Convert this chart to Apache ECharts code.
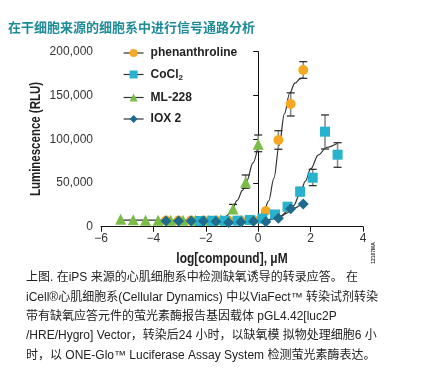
<!DOCTYPE html>
<html><head><meta charset="utf-8">
<script src="https://cdn.jsdelivr.net/npm/echarts@6/dist/echarts.min.js"></script>
<style>html,body{margin:0;padding:0;background:#fff}#c{width:437px;height:386px}</style>
</head><body><div id="c"></div>
<script>
// ---- data ----
const seriesNames = ['phenanthroline', 'CoCl2', 'ML-228', 'IOX 2'];
const xTicks = [-6, -4, -2, 0, 2, 4];
const yTicks = [0, 50000, 100000, 150000, 200000];
const xAxisTitle = 'log[compound], μM';
const yAxisTitle = 'Luminescence (RLU)';

const phenX = [-3.52, -3.04, -2.56, -2.09, -1.61, -1.13, -0.66, -0.18, 0.29, 0.77, 1.24, 1.72];
const phenY = [7000, 7000, 7200, 7000, 7000, 6800, 7000, 7500, 17900, 99100, 140200, 179000];
const cocX = [-2.22, -1.75, -1.27, -0.79, -0.32, 0.16, 0.64, 1.12, 1.60, 2.08, 2.55, 3.03];
const cocY = [6500, 6800, 6800, 6900, 7700, 9200, 14000, 22900, 40000, 56000, 108600, 82300];
const mlX = [-5.25, -4.77, -4.30, -3.82, -3.34, -2.87, -2.39, -1.91, -1.43, -0.96, -0.48, 0.00];
const mlY = [8500, 8000, 7500, 7500, 7500, 7500, 7500, 7500, 8000, 20200, 50700, 94200];
const ioxX = [-3.52, -3.04, -2.56, -2.09, -1.61, -1.13, -0.66, -0.18, 0.29, 0.77, 1.24, 1.72];
const ioxY = [6500, 6500, 6500, 6500, 6000, 4800, 5500, 6200, 5600, 9600, 20600, 26000];

// error bars: x, low, high
const phenErrX = [0.77, 1.24, 1.72];
const phenErrLo = [88500, 126500, 169600];
const phenErrHi = [109700, 153000, 188600];
const cocErrX = [1.60, 2.08, 2.55, 3.03];
const cocErrLo = [35400, 46900, 88800, 67900];
const cocErrHi = [45000, 65600, 127700, 96000];
const mlErrX = [-0.96, -0.48, 0.00];
const mlErrLo = [15500, 43900, 85700];
const mlErrHi = [25500, 59100, 104800];

// fitted curves
const phenFitX = [-3.52, -1.0, -0.5, -0.2, 0.0, 0.2, 0.4, 0.6, 0.8, 1.0, 1.2, 1.4, 1.6, 1.72];
const phenFitY = [7000, 7000, 7300, 8300, 10600, 16300, 29500, 55500, 93000, 129000, 152500, 164000, 169000, 170500];
const cocFitX = [-2.22, -0.5, 0.0, 0.4, 0.8, 1.1, 1.34, 1.6, 1.8, 2.0, 2.3, 2.6, 3.03];
const cocFitY = [7000, 7000, 7300, 8000, 10700, 15600, 23700, 38000, 52000, 66000, 82000, 90500, 95300];
const mlFitX = [-5.25, -2.0, -1.6, -1.33, -1.2, -1.0, -0.8, -0.6, -0.44, -0.2, 0.0];
const mlFitY = [7500, 7500, 7900, 9500, 12500, 20000, 30000, 41500, 52000, 73000, 93500];
const ioxFitX = [-3.52, -1.0, -0.5, 0.0, 0.3, 0.77, 1.24, 1.72];
const ioxFitY = [6500, 6200, 6000, 6000, 6600, 11000, 20000, 27000];

const colors = ['#f7a823', '#27b2cd', '#79bd45', '#1f6b8e'];
const symbols = ['circle', 'rect', 'triangle', 'diamond'];
const symbolSizes = [10, 10, 11, 11];

const zip = (a, b) => a.map((v, i) => [v, b[i]]);
const zip3 = (a, b, c) => a.map((v, i) => [v, b[i], c[i]]);

const SANS = "'Liberation Sans', Arial, sans-serif";

function errSeries(data, z) {
  return {
    type: 'custom', silent: true, z: z, data: data,
    renderItem: function (params, api) {
      const x = api.value(0);
      const lo = api.coord([x, api.value(1)]);
      const hi = api.coord([x, api.value(2)]);
      const w = 4;
      return { type: 'group', children: [
        { type: 'line', shape: { x1: lo[0], y1: lo[1], x2: hi[0], y2: hi[1] }, style: { stroke: '#8a8a8a', lineWidth: 1.6 } },
        { type: 'line', shape: { x1: lo[0] - w, y1: lo[1], x2: lo[0] + w, y2: lo[1] }, style: { stroke: '#222', lineWidth: 1.2 } },
        { type: 'line', shape: { x1: hi[0] - w, y1: hi[1], x2: hi[0] + w, y2: hi[1] }, style: { stroke: '#222', lineWidth: 1.2 } }
      ]};
    }
  };
}
function fitSeries(data) {
  return { type: 'line', data: data, showSymbol: false, smooth: 0.35, smoothMonotone: 'x', silent: true, z: 2,
    lineStyle: { color: '#333', width: 1.2 } };
}
function markSeries(i, data, z) {
  return { name: seriesNames[i], type: 'line', data: data, symbol: symbols[i], symbolSize: symbolSizes[i], z: z,
    showAllSymbol: true, lineStyle: { width: 0, opacity: 0 }, itemStyle: { color: colors[i] }, silent: true };
}

const chart = echarts.init(document.getElementById('c'), null, { renderer: 'canvas' });
const captionLines = [
  '上图. 在iPS 来源的心肌细胞系中检测缺氧诱导的转录应答。 在',
  'iCell®心肌细胞系(Cellular Dynamics) 中以ViaFect™ 转染试剂转染',
  '带有缺氧应答元件的萤光素酶报告基因载体 pGL4.42[luc2P',
  '/HRE/Hygro] Vector，转染后24 小时，以缺氧模 拟物处理细胞6 小',
  '时，以 ONE-Glo™ Luciferase Assay System 检测萤光素酶表达。'
];
const captionFont = "12px 'Liberation Sans', 'Noto Sans CJK SC', sans-serif";

chart.setOption({
  animation: false,
  backgroundColor: '#fff',
  grid: { left: 101, top: 51.7, width: 262, height: 175, containLabel: false },
  xAxis: {
    type: 'value', min: xTicks[0], max: xTicks[xTicks.length - 1], interval: 2,
    axisLine: { lineStyle: { color: '#111', width: 1 } },
    axisTick: { length: 5, lineStyle: { color: '#111' } },
    splitLine: { show: false },
    axisLabel: { fontSize: 12, color: '#333', margin: 6, fontFamily: SANS,
      formatter: v => String(v).replace('-', '−') }
  },
  yAxis: {
    type: 'value', min: yTicks[0], max: yTicks[yTicks.length - 1], interval: 50000,
    axisLine: { show: true, lineStyle: { color: '#111', width: 1 } },
    axisTick: { show: true, length: 5, lineStyle: { color: '#111' } },
    splitLine: { show: false },
    axisLabel: { fontSize: 12, color: '#333', margin: 8, fontFamily: SANS,
      formatter: v => v.toLocaleString('en-US') }
  },
  legend: {
    orient: 'vertical', left: 118, top: 42, itemWidth: 20, itemHeight: 10, itemGap: 9.5,
    data: seriesNames, selectedMode: false,
    lineStyle: { color: '#333', width: 1.2, opacity: 1 },
    formatter: n => n === 'CoCl2' ? 'CoCl{sub|2}' : n,
    textStyle: { fontFamily: SANS, fontWeight: 'bold', fontSize: 12, color: '#222', padding: [0, 0, 0, 2],
      rich: { sub: { fontFamily: SANS, fontWeight: 'bold', fontSize: 8, color: '#222', padding: [7, 0, 0, 0] } } }
  },
  series: [
    fitSeries(zip(phenFitX, phenFitY)),
    fitSeries(zip(cocFitX, cocFitY)),
    fitSeries(zip(mlFitX, mlFitY)),
    fitSeries(zip(ioxFitX, ioxFitY)),
    errSeries(zip3(phenErrX, phenErrLo, phenErrHi), 3),
    errSeries(zip3(cocErrX, cocErrLo, cocErrHi), 3),
    errSeries(zip3(mlErrX, mlErrLo, mlErrHi), 3),
    markSeries(0, zip(phenX, phenY), 4),
    markSeries(2, zip(mlX, mlY), 5),
    markSeries(1, zip(cocX, cocY), 6),
    markSeries(3, zip(ioxX, ioxY), 7)
  ],
  graphic: [
    { type: 'text', left: 8, top: 21, style: { text: '在干细胞来源的细胞系中进行信号通路分析', fill: '#1f8b98',
      font: "bold 13px 'Noto Sans CJK SC', sans-serif" } },
    { type: 'text', x: 232, y: 259, scaleX: 0.8, style: { text: xAxisTitle, fill: '#222',
      font: "bold 15px " + SANS, align: 'center', verticalAlign: 'middle' } },
    { type: 'text', x: 36, y: 139, rotation: Math.PI / 2, scaleX: 0.82, style: { text: yAxisTitle, fill: '#222',
      font: "bold 14px " + SANS, align: 'center', verticalAlign: 'middle' } },
    { type: 'text', x: 374, y: 253, rotation: Math.PI / 2, style: { text: '12107MA', fill: '#333',
      font: "bold 5px " + SANS, align: 'center', verticalAlign: 'middle' } }
  ].concat(captionLines.map((t, i) => ({
    type: 'text', left: 26, top: 272 + i * 19.3, style: { text: t, fill: '#222', font: captionFont }
  })))
});
</script></body></html>
